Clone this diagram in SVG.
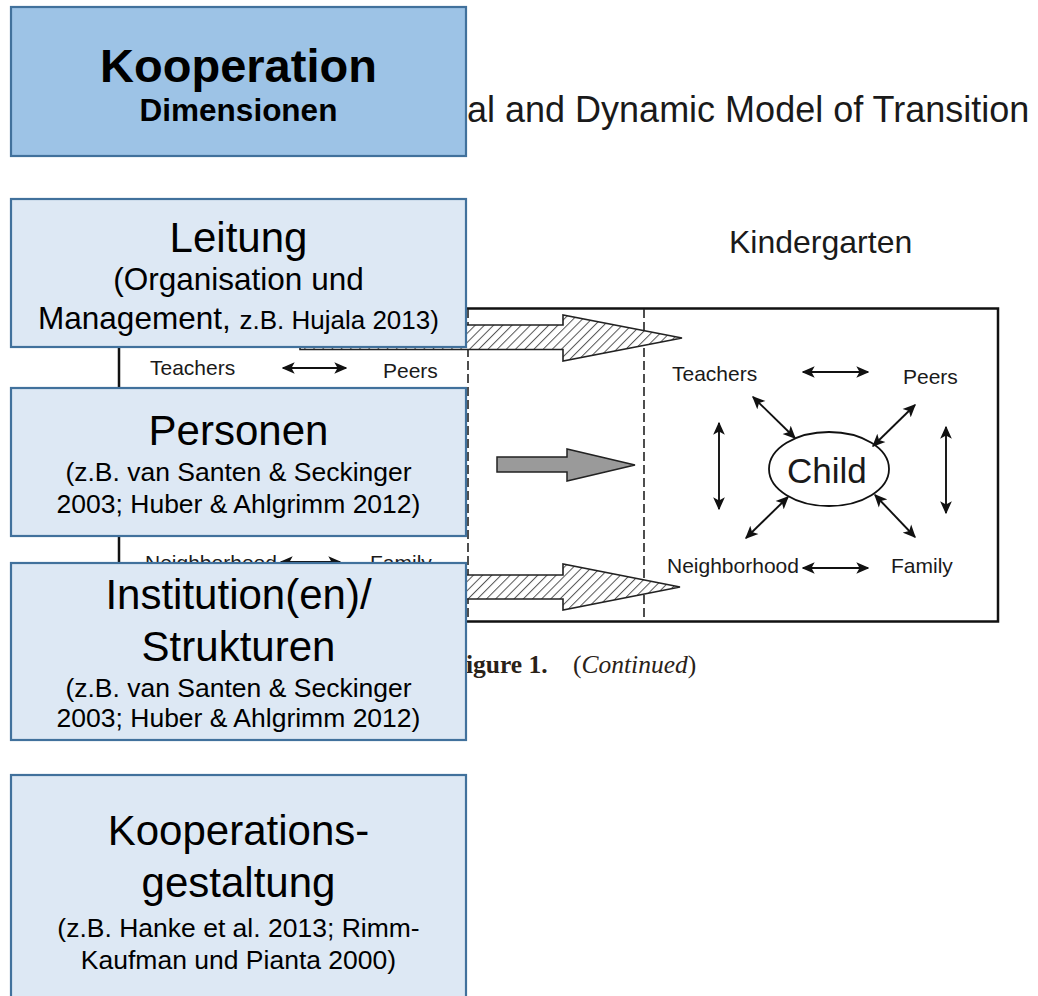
<svg xmlns="http://www.w3.org/2000/svg" width="1038" height="996" viewBox="0 0 1038 996">
<defs>
<style>
.box{stroke:#41719c;stroke-width:2.2}
.light{fill:#dde8f4}
.dark{fill:#9dc3e6}
.t{font-family:"Liberation Sans",Arial,sans-serif;fill:#000;text-anchor:middle}
.s{font-family:"Liberation Sans",Arial,sans-serif;fill:#1a1a1a}
.ln{stroke:#111;stroke-width:1.9;fill:none;marker-start:url(#ah);marker-end:url(#ah)}
.dash{stroke:#222;stroke-width:1.6;stroke-dasharray:9 4;fill:none}
</style>
<marker id="ah" viewBox="0 0 10 10" refX="9" refY="5" markerWidth="13" markerHeight="13" markerUnits="userSpaceOnUse" orient="auto-start-reverse">
<path d="M0,0.5 L10,5 L0,9.5 L2.5,5 z" fill="#111"/>
</marker>
<pattern id="hatch" patternUnits="userSpaceOnUse" width="6.5" height="6.5" patternTransform="rotate(45)">
<rect width="6.5" height="6.5" fill="#fff"/>
<line x1="0" y1="0" x2="0" y2="6.5" stroke="#555" stroke-width="2"/>
</pattern>
<clipPath id="upper"><rect x="0" y="536" width="466" height="27"/></clipPath>
</defs>
<rect width="1038" height="996" fill="#fff"/>

<g id="background-figure">
<text class="s" x="467" y="122" font-size="36">al and Dynamic Model of Transition</text>
<text class="s" x="729" y="253" font-size="32">Kindergarten</text>
<rect x="119" y="308.5" width="879" height="313" fill="none" stroke="#111" stroke-width="2.5"/>
<line class="dash" x1="468" y1="309" x2="468" y2="621"/>
<line class="dash" x1="644" y1="309" x2="644" y2="621"/>
<polygon points="300,325 563,325 563,315 682,338 563,361 563,349.5 300,349.5" fill="url(#hatch)" stroke="#222" stroke-width="1.6"/>
<polygon points="300,575 563,575 563,564 680,587 563,610 563,599 300,599" fill="url(#hatch)" stroke="#222" stroke-width="1.6"/>
<polygon points="497,457 567,457 567,449 635,465 567,481 567,472 497,472" fill="#9a9a9a" stroke="#222" stroke-width="1.5"/>
<text class="s" x="150" y="375" font-size="21">Teachers</text>
<line class="ln" x1="283" y1="368" x2="346" y2="368"/>
<text class="s" x="383" y="378" font-size="21">Peers</text>
<g clip-path="url(#upper)">
<text class="s" x="145" y="570" font-size="21">Neighborhood</text>
<line class="ln" x1="281" y1="562" x2="340" y2="562"/>
<text class="s" x="370" y="570" font-size="21">Family</text>
</g>
<text class="s" x="672" y="381" font-size="21">Teachers</text>
<line class="ln" x1="803" y1="372" x2="868" y2="372"/>
<text class="s" x="903" y="384" font-size="21">Peers</text>
<ellipse cx="829" cy="469" rx="60" ry="37" fill="#fff" stroke="#111" stroke-width="1.8"/>
<text class="s" x="787" y="483" font-size="35">Child</text>
<line class="ln" x1="753" y1="397" x2="795" y2="438"/>
<line class="ln" x1="915" y1="405" x2="873" y2="446"/>
<line class="ln" x1="788" y1="497" x2="746" y2="538"/>
<line class="ln" x1="875" y1="495" x2="915" y2="537"/>
<line class="ln" x1="719" y1="423" x2="719" y2="509"/>
<line class="ln" x1="946" y1="427" x2="946" y2="513"/>
<text class="s" x="667" y="573" font-size="21">Neighborhood</text>
<line class="ln" x1="803" y1="568" x2="868" y2="568"/>
<text class="s" x="891" y="573" font-size="21">Family</text>
<text x="466" y="673" font-family="'Liberation Serif','Times New Roman',serif" font-size="25.5" fill="#2a2218"><tspan font-weight="bold">igure  1.</tspan><tspan x="573">(</tspan><tspan font-style="italic">Continued</tspan><tspan>)</tspan></text>
</g>

<g id="node-kooperation">
<rect class="box dark" x="11" y="7" width="455" height="149"/>
<text class="t" x="238.5" y="82" font-size="47" font-weight="bold">Kooperation</text>
<text class="t" x="238.5" y="121" font-size="31.5" font-weight="bold">Dimensionen</text>
</g>

<g id="node-leitung">
<rect class="box light" x="11" y="199" width="455" height="148"/>
<text class="t" x="238.5" y="252" font-size="42">Leitung</text>
<text class="t" x="238.5" y="290" font-size="31.5">(Organisation und</text>
<text class="t" x="238.5" y="329" font-size="31.5">Management, <tspan font-size="26">z.B. Hujala 2013)</tspan></text>
</g>

<g id="node-personen">
<rect class="box light" x="11" y="388" width="455" height="148"/>
<text class="t" x="238.5" y="445" font-size="42">Personen</text>
<text class="t" x="238.5" y="481" font-size="26.5">(z.B. van Santen &amp; Seckinger</text>
<text class="t" x="238.5" y="513" font-size="26.5">2003; Huber &amp; Ahlgrimm 2012)</text>
</g>

<g id="node-institution">
<rect class="box light" x="11" y="563" width="455" height="177"/>
<text class="t" x="238.5" y="609" font-size="42">Institution(en)/</text>
<text class="t" x="238.5" y="661" font-size="42">Strukturen</text>
<text class="t" x="238.5" y="697" font-size="26.5">(z.B. van Santen &amp; Seckinger</text>
<text class="t" x="238.5" y="727" font-size="26.5">2003; Huber &amp; Ahlgrimm 2012)</text>
</g>

<g id="node-kooperationsgestaltung">
<rect class="box light" x="11" y="775" width="455" height="240"/>
<text class="t" x="238.5" y="845" font-size="42">Kooperations-</text>
<text class="t" x="238.5" y="897" font-size="42">gestaltung</text>
<text class="t" x="238.5" y="937" font-size="26.5">(z.B. Hanke et al. 2013; Rimm-</text>
<text class="t" x="238.5" y="969" font-size="26.5">Kaufman und Pianta 2000)</text>
</g>

<g id="connectors"></g>
</svg>
